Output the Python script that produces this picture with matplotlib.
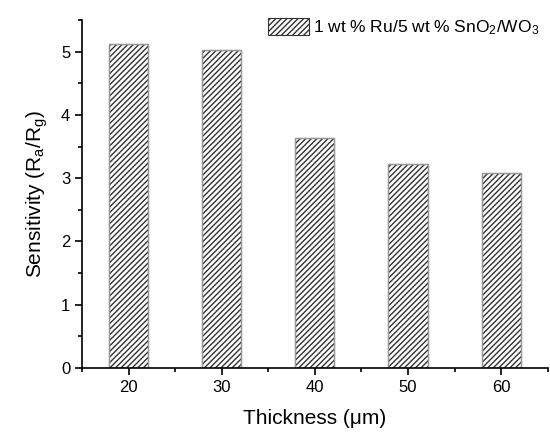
import numpy as np
import matplotlib
matplotlib.use('Agg')
import matplotlib.pyplot as plt
from matplotlib.ticker import MultipleLocator

plt.rcParams['font.family'] = ['Liberation Sans', 'DejaVu Sans']
plt.rcParams['hatch.linewidth'] = 1.0

# thickness in um and sensitivity Ra/Rg
thickness = [20, 30, 40, 50, 60]
sensitivity = [5.12, 5.02, 3.63, 3.22, 3.08]
series_label = '1 wt % Ru/5 wt % SnO$\\mathregular{_2}$/WO$\\mathregular{_3}$'

fig = plt.figure(figsize=(5.5, 4.34), dpi=100)
ax = fig.add_axes([0.149, 0.152, 0.847, 0.802])

ax.bar(thickness, sensitivity, width=4.2, color='white', edgecolor='#333333',
       hatch='//////', linewidth=0.8, label=series_label)
# gray outline on top of hatch
ax.bar(thickness, sensitivity, width=4.2, color='none', edgecolor='#999999',
       linewidth=1.0)

ax.set_xlim(15, 65)
ax.set_ylim(0, 5.5)
ax.set_xticks(thickness)
ax.xaxis.set_minor_locator(MultipleLocator(5))
ax.yaxis.set_major_locator(MultipleLocator(1))
ax.yaxis.set_minor_locator(MultipleLocator(0.5))
ax.tick_params(which='both', direction='out', labelsize=12, width=1.2)
ax.tick_params(which='major', length=5)
ax.tick_params(which='minor', length=3)

ax.spines['top'].set_visible(False)
ax.spines['right'].set_visible(False)
ax.spines['left'].set_linewidth(1.2)
ax.spines['bottom'].set_linewidth(1.2)

ax.set_xlabel('Thickness (\u03bcm)', fontsize=15, labelpad=10)
ax.set_ylabel('Sensitivity (R$\\mathregular{_a}$/R$\\mathregular{_g}$)', fontsize=15, labelpad=8)

ax.legend(loc='upper right', frameon=False, fontsize=12.5, handlelength=2.4,
          handleheight=1.1, handletextpad=0.2, borderaxespad=0.1,
          bbox_to_anchor=(1.0, 1.03))

fig.savefig('out.png', dpi=100)
